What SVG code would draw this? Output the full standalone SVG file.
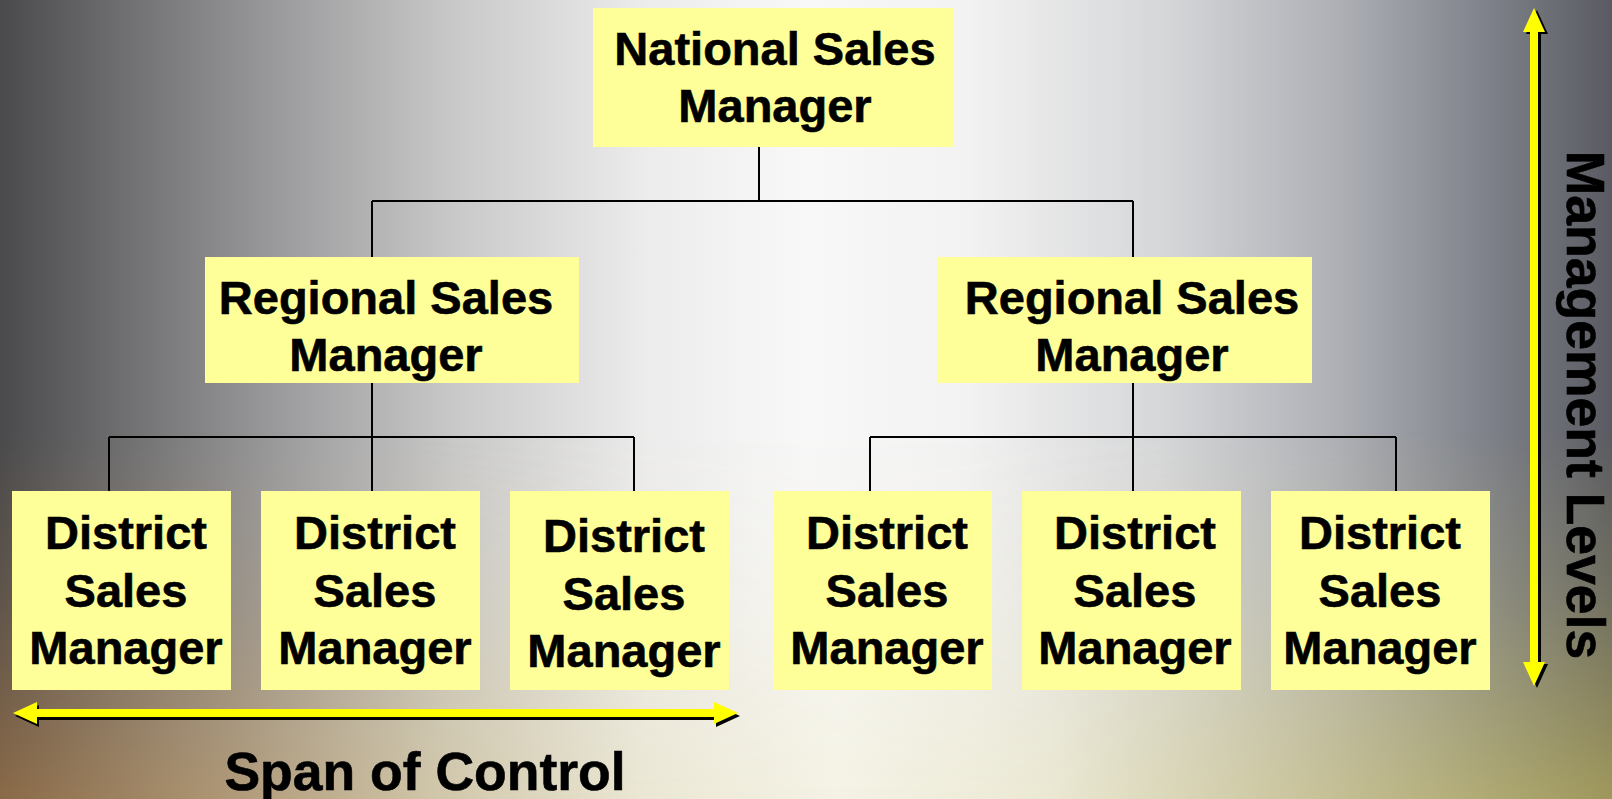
<svg xmlns="http://www.w3.org/2000/svg" width="1612" height="799" viewBox="0 0 1612 799">
<style>
.box{fill:#ffff99}
.t{font-family:"Liberation Sans",Arial,sans-serif;font-weight:bold;font-size:47px;text-anchor:middle;fill:#000;stroke:#000;stroke-width:0.6px}
.big{font-family:"Liberation Sans",Arial,sans-serif;font-weight:bold;font-size:53.5px;text-anchor:middle;fill:#000;stroke:#000;stroke-width:0.6px}
.conn{stroke:#000;stroke-width:2;fill:none}
</style>
<defs>
<linearGradient id="topg" x1="0" y1="0" x2="1612" y2="0" gradientUnits="userSpaceOnUse">
<stop offset="0" stop-color="#4a4a4c"/>
<stop offset="0.07" stop-color="#6c6c6e"/>
<stop offset="0.18" stop-color="#9e9ea0"/>
<stop offset="0.28" stop-color="#c8c8c8"/>
<stop offset="0.4" stop-color="#ececec"/>
<stop offset="0.5" stop-color="#f8f8f8"/>
<stop offset="0.6" stop-color="#f2f2f2"/>
<stop offset="0.72" stop-color="#d6d7d9"/>
<stop offset="0.83" stop-color="#aeb0b6"/>
<stop offset="0.92" stop-color="#80838b"/>
<stop offset="1" stop-color="#5a5b62"/>
</linearGradient>
<linearGradient id="botg" x1="0" y1="0" x2="1612" y2="0" gradientUnits="userSpaceOnUse">
<stop offset="0" stop-color="#8a6a48"/>
<stop offset="0.13" stop-color="#ac9472"/>
<stop offset="0.27" stop-color="#d0c6a8"/>
<stop offset="0.4" stop-color="#ebe7d4"/>
<stop offset="0.52" stop-color="#f4f2e4"/>
<stop offset="0.65" stop-color="#ebe8d3"/>
<stop offset="0.8" stop-color="#cbc69e"/>
<stop offset="0.92" stop-color="#b0aa74"/>
<stop offset="1" stop-color="#9f985c"/>
</linearGradient>
<linearGradient id="vm" x1="0" y1="430" x2="0" y2="799" gradientUnits="userSpaceOnUse">
<stop offset="0" stop-color="#000"/>
<stop offset="0.45" stop-color="#555"/>
<stop offset="1" stop-color="#fff"/>
</linearGradient>
<mask id="bm" maskUnits="userSpaceOnUse" x="0" y="0" width="1612" height="799">
<rect x="0" y="0" width="1612" height="799" fill="url(#vm)"/>
</mask>
</defs>
<rect x="0" y="0" width="1612" height="799" fill="url(#topg)"/>
<rect x="0" y="0" width="1612" height="799" fill="url(#botg)" mask="url(#bm)"/>

<g id="connectors" class="conn">
<path d="M759 147V201M372 201H1133M372 201V257M1133 201V257"/>
<path d="M372 383V437M109 437H634M109 437V491M372 437V491M634 437V491"/>
<path d="M1133 383V437M870 437H1396M870 437V491M1133 437V491M1396 437V491"/>
</g>

<g id="national">
<rect class="box" x="593" y="8" width="360" height="139"/>
<text class="t" x="775" y="65">National Sales</text>
<text class="t" x="775" y="122">Manager</text>
</g>
<g id="regional-left">
<rect class="box" x="205" y="257" width="374" height="126"/>
<text class="t" x="386" y="314">Regional Sales</text>
<text class="t" x="386" y="371">Manager</text>
</g>
<g id="regional-right">
<rect class="box" x="938" y="257" width="374" height="126"/>
<text class="t" x="1132" y="314">Regional Sales</text>
<text class="t" x="1132" y="371">Manager</text>
</g>
<g id="district-1">
<rect class="box" x="12" y="491" width="219" height="199"/>
<text class="t" x="126" y="549">District</text>
<text class="t" x="126" y="607">Sales</text>
<text class="t" x="126" y="664">Manager</text>
</g>
<g id="district-2">
<rect class="box" x="261" y="491" width="219" height="199"/>
<text class="t" x="375" y="549">District</text>
<text class="t" x="375" y="607">Sales</text>
<text class="t" x="375" y="664">Manager</text>
</g>
<g id="district-3">
<rect class="box" x="510" y="491" width="219" height="199"/>
<text class="t" x="624" y="552">District</text>
<text class="t" x="624" y="610">Sales</text>
<text class="t" x="624" y="667">Manager</text>
</g>
<g id="district-4">
<rect class="box" x="773" y="491" width="219" height="199"/>
<text class="t" x="887" y="549">District</text>
<text class="t" x="887" y="607">Sales</text>
<text class="t" x="887" y="664">Manager</text>
</g>
<g id="district-5">
<rect class="box" x="1022" y="491" width="219" height="199"/>
<text class="t" x="1135" y="549">District</text>
<text class="t" x="1135" y="607">Sales</text>
<text class="t" x="1135" y="664">Manager</text>
</g>
<g id="district-6">
<rect class="box" x="1271" y="491" width="219" height="199"/>
<text class="t" x="1380" y="549">District</text>
<text class="t" x="1380" y="607">Sales</text>
<text class="t" x="1380" y="664">Manager</text>
</g>

<g id="span-arrow">
<polygon transform="translate(2,3)" fill="#000" points="13,713 37,702 37,709 714,709 714,702 738,713 714,724 714,717 37,717 37,724"/>
<polygon fill="#ffff00" points="13,713 37,702 37,709 714,709 714,702 738,713 714,724 714,717 37,717 37,724"/>
<text class="big" x="425" y="790">Span of Control</text>
</g>
<g id="levels-arrow">
<polygon transform="translate(3,2)" fill="#000" points="1534,8 1545,32 1538,32 1538,662 1545,662 1534,686 1523,662 1530,662 1530,32 1523,32"/>
<polygon fill="#ffff00" points="1534,8 1545,32 1538,32 1538,662 1545,662 1534,686 1523,662 1530,662 1530,32 1523,32"/>
<text class="big" transform="translate(1567,405) rotate(90)" x="0" y="0">Management Levels</text>
</g>
</svg>
